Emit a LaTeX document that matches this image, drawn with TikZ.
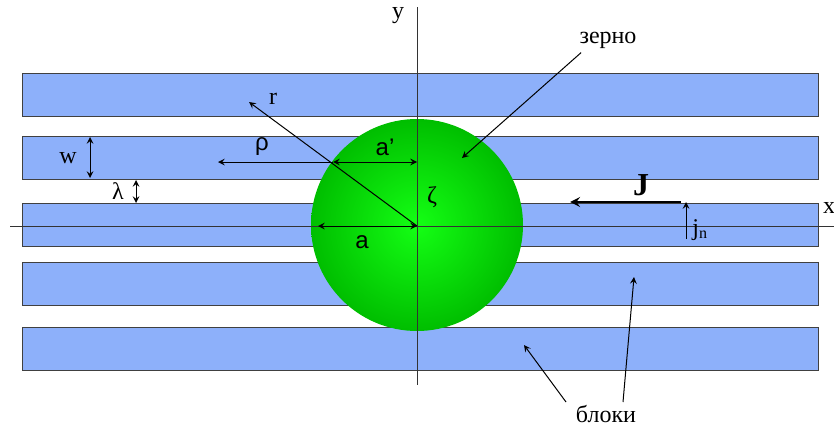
\documentclass[tikz,border=0pt]{standalone}
\usepackage{fontspec}
\setmainfont{Liberation Serif}
\newfontfamily\sanslabel{Liberation Sans}
\usetikzlibrary{positioning, calc, arrows}
\definecolor{BlockBlue}{RGB}{141,176,250}
\definecolor{GrainLight}{RGB}{20,255,20}
\definecolor{GrainDark}{RGB}{0,190,0}

\begin{document}
\begin{tikzpicture}[
    x=0.5pt, y=-0.5pt,
    block/.style={rectangle, draw=black!75, fill=BlockBlue, line width=0.6pt,
                  minimum width=398pt, minimum height=21.5pt, inner sep=0pt, anchor=north west},
    grain/.style={circle, minimum size=106pt, inner sep=0pt,
                  inner color=GrainLight, outer color=GrainDark},
    axis/.style={line width=0.5pt, black!80},
    arrow/.style={->, >=stealth, line width=0.5pt},
    dimarrow/.style={<->, >=stealth, line width=0.5pt},
    lbl/.style={font=\fontsize{12}{14}\selectfont, inner sep=1pt},
    sanslbl/.style={font=\sanslabel\fontsize{12}{14}\selectfont, inner sep=1pt}
]
\useasboundingbox (0,0) rectangle (834,428);

% Blocks
\foreach \name/\top in {bar1/73, bar2/136, bar3/203, bar4/262, bar5/327}
    \node[block] (\name) at (22,\top) {};

% Grain
\node[grain] (grain) at (417,225) {};

% Axes
\coordinate (xstart) at (10,226);
\coordinate (xend) at (834,226);
\coordinate (ystart) at (417,7);
\coordinate (yend) at (417,385);
\coordinate (origin) at (417,226);
\draw[axis] (xstart) -- (xend);
\draw[axis] (ystart) -- (yend);
\node[lbl] (xlabel) at (829,208) {x};
\node[lbl] (ylabel) at (398,16) {y};

% Radius r
\coordinate (rtip) at (249,102);
\draw[arrow] (origin) -- (rtip);
\node[lbl] (rlabel) at (273,99) {r};

% rho and a'
\coordinate (rhoend) at (218,162);
\coordinate (apleft) at (333,162);
\coordinate (apright) at (417,162);
\draw[arrow] (apleft) -- (rhoend);
\draw[dimarrow] (apleft) -- (apright);
\node[sanslbl] (rholabel) at (262,147) {ρ};
\node[sanslbl] (aplabel) at (385,147) {a’};

% a
\coordinate (aleft) at (318,226);
\draw[dimarrow] (aleft) -- (origin);
\node[sanslbl] (alabel) at (362,242) {a};

% zeta
\node[lbl] (zetalabel) at (432,197) {ζ};

% w and lambda
\coordinate (wtop) at (90,137);
\coordinate (wbot) at (90,178);
\draw[dimarrow] (wtop) -- (wbot);
\node[lbl] (wlabel) at (68,158) {w};
\coordinate (ltop) at (136,180);
\coordinate (lbot) at (136,203);
\draw[dimarrow] (ltop) -- (lbot);
\node[lbl] (llabel) at (118,191) {λ};

% Flux J and j_n
\coordinate (jstart) at (681,202);
\coordinate (jend) at (570,202);
\draw[arrow, line width=1.2pt] (jstart) -- (jend);
\node[lbl, font=\fontsize{16}{18}\selectfont\bfseries] (jlabel) at (641,185) {J};
\coordinate (jnbot) at (686,239);
\coordinate (jntop) at (686,202);
\draw[arrow] (jnbot) -- (jntop);
\node[lbl, anchor=west] (jnlabel) at (690,230) {j$_{\mathrm{n}}$};

% Labels with pointers
\node[lbl] (grainlabel) at (608,40) {зерно};
\coordinate (graintip) at (462,158);
\draw[arrow] (grainlabel.south west) ++(4,2) coordinate (grainfrom) -- (graintip);

\node[lbl] (blocklabel) at (606,414) {блоки};
\coordinate (blocktipa) at (524,345);
\coordinate (blocktipb) at (634,277);
\coordinate (blockfroma) at (566,402);
\coordinate (blockfromb) at (623,402);
\draw[arrow] (blockfroma) -- (blocktipa);
\draw[arrow] (blockfromb) -- (blocktipb);

\end{tikzpicture}
\end{document}
